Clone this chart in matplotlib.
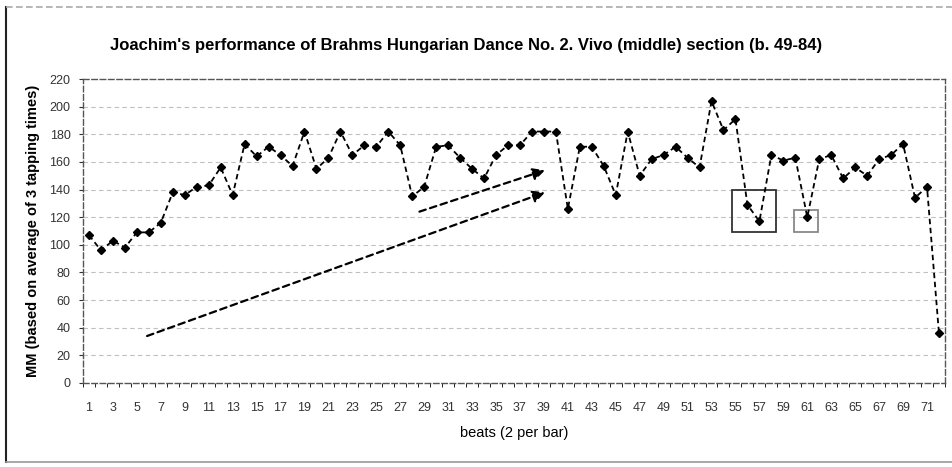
import numpy as np
import matplotlib
matplotlib.use("Agg")
import matplotlib.pyplot as plt
from matplotlib.patches import Rectangle
from matplotlib.lines import Line2D

# tempo (MM) for each beat
beats = list(range(1, 73))
mm = [107, 96, 103, 98, 109, 109, 116, 138, 136, 142,
      143, 156, 136, 173, 164, 171, 165, 157, 182, 155,
      163, 182, 165, 172, 171, 182, 172, 135, 142, 171,
      172, 163, 155, 148, 165, 172, 172, 182, 182, 182,
      126, 171, 171, 157, 136, 182, 150, 162, 165, 171,
      163, 156, 204, 183, 191, 129, 117, 165, 161, 163,
      120, 162, 165, 148, 156, 150, 162, 165, 173, 134,
      142, 36]

yticks = list(range(0, 221, 20))
xticks = list(range(1, 72, 2))

title = "Joachim's performance of Brahms Hungarian Dance No. 2. Vivo (middle) section (b. 49-84)"
xlab = "beats (2 per bar)"
ylab = "MM (based on average of 3 tapping times)"

# arrows (start, end) and highlight boxes (x0, x1, y0, y1) in data units
arrows = [((5.85, 34), (39.1, 138)), ((28.6, 124), (39.1, 154))]
boxes = [((54.7, 58.4, 109, 140), "#333333"), ((59.9, 61.9, 109, 125), "#888888")]

plt.rcParams['font.family'] = ['Liberation Sans', 'DejaVu Sans']

fig = plt.figure(figsize=(9.52, 4.67), dpi=100)
ax = fig.add_axes([0.0872, 0.1799, 0.9054, 0.6509])

ax.plot(beats, mm, color="black", linestyle=(0, (3, 2)), linewidth=1.3,
        marker="D", markersize=4.5, markerfacecolor="black", markeredgecolor="black")

for (x0, y0), (x1, y1) in arrows:
    ax.annotate("", xy=(x1, y1), xytext=(x0, y0),
                arrowprops=dict(arrowstyle="-|>", linestyle=(0, (3, 2)), lw=1.6,
                                color="black", mutation_scale=18, shrinkA=0, shrinkB=0))

for (bx0, bx1, by0, by1), col in boxes:
    ax.add_patch(Rectangle((bx0, by0), bx1 - bx0, by1 - by0, fill=False,
                           edgecolor=col, linewidth=1.3))

ax.set_xlim(0.5, 72.5)
ax.set_ylim(0, 220)
ax.set_yticks(yticks)
ax.set_xticks(xticks)
ax.set_xticks(np.arange(0.5, 73, 1), minor=True)
ax.tick_params(axis="both", labelsize=9, colors="#333333", length=3, width=0.8)
ax.tick_params(axis="y", pad=6)
ax.tick_params(axis="x", which="major", length=0, pad=14)
ax.tick_params(axis="x", which="minor", length=3, width=0.6)

for y in yticks[1:-1]:
    ax.axhline(y, color="#c0c0c0", linestyle=(0, (4, 3)), linewidth=0.8, zorder=0)

for s in ["left", "bottom", "right", "top"]:
    ax.spines[s].set_linestyle((0, (4, 2)))
    ax.spines[s].set_linewidth(1.0)
    ax.spines[s].set_color("#555555")

ax.set_xlabel(xlab, fontsize=10.5, labelpad=8)
ax.set_ylabel(ylab, fontsize=10.5, fontweight="bold", labelpad=7)
fig.text(0.49, 0.903, title, ha="center", va="center", fontsize=12, fontweight="bold")

# outer chart frame
fig.add_artist(Line2D([0.006, 0.006], [0.01, 0.985], color="#222222", lw=1.5))
fig.add_artist(Line2D([0.006, 1.0], [0.985, 0.985], color="#aaaaaa", lw=1.2, linestyle=(0, (4, 2))))
fig.add_artist(Line2D([0.006, 1.0], [0.01, 0.01], color="#999999", lw=1.2))

fig.savefig("out.png", dpi=100)
